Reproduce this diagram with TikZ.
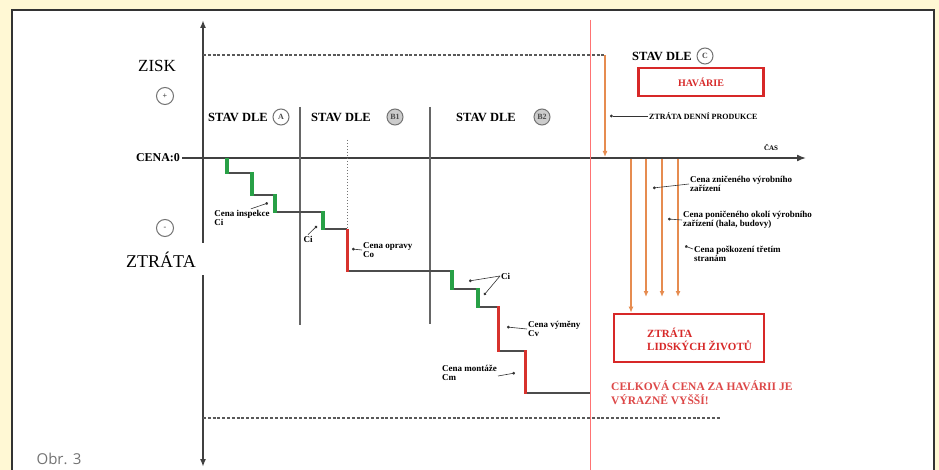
\documentclass[tikz,border=0pt]{standalone}
\usepackage{fontspec}
\setmainfont{Liberation Serif}
\newfontfamily\obrfont{Open Sans}
\usepackage{tikz}
\usetikzlibrary{arrows.meta,positioning,shapes.geometric}
\definecolor{pagebg}{RGB}{255,248,212}
\definecolor{stepgreen}{RGB}{40,160,70}
\definecolor{stepred}{RGB}{215,50,45}
\definecolor{lossorange}{RGB}{230,140,80}
\definecolor{boxred}{RGB}{215,40,40}

\begin{document}
\begin{tikzpicture}[x=1pt,y=-1pt,
    axis/.style={line width=1.6pt,black!75},
    dashline/.style={line width=1.4pt,black!65,dash pattern=on 3pt off 1.8pt},
    sepline/.style={line width=1.3pt,black!60},
    stepline/.style={line width=1.2pt,black!70},
    greenstep/.style={line width=3.4pt,stepgreen},
    redstep/.style={line width=3pt,stepred},
    lossline/.style={line width=1.7pt,lossorange},
    pointer/.style={line width=0.6pt,black!80,-{Circle[length=2.8pt]}},
    stavlabel/.style={font=\bfseries\fontsize{12.5}{13}\selectfont,inner sep=1pt},
    circlabel/.style={circle,draw=black!55,line width=1pt,minimum size=16pt,inner sep=0pt,font=\bfseries\fontsize{8}{8}\selectfont,text=black!70},
    smalllabel/.style={font=\bfseries\fontsize{9}{9.5}\selectfont,align=left,inner sep=1pt},
    redbox/.style={draw=boxred,line width=2.6pt,text=boxred,font=\bfseries}]

    % Frame
    \useasboundingbox (0,0) rectangle (939,470);
    \fill[pagebg] (0,0) rectangle (939,470);
    \fill[white] (12,10) rectangle (934,470);
    \draw[line width=1.4pt,black!80] (12,470) -- (12,10) -- (934,10) -- (934,470);
    \node[font=\obrfont\fontsize{15}{15}\selectfont,text=black!55] (obr) at (59,459) {Obr. 3};

    % Axis labels
    \node[font=\fontsize{17}{17}\selectfont] (zisk) at (157,66) {ZISK};
    \node[circlabel,minimum size=17pt] (plus) at (165,96) {+};
    \node[font=\bfseries\fontsize{12}{12}\selectfont,inner sep=2pt] (cena) at (158,158) {CENA:0};
    \node[circlabel,minimum size=17pt] (minus) at (165,228) {-};
    \node[font=\fontsize{18}{18}\selectfont] (ztrata) at (161,260) {ZTRÁTA};

    % Axes
    \coordinate (ytop) at (203,20);
    \coordinate (ybot) at (203,467);
    \coordinate (xend) at (806,158);
    \draw[axis,-{Latex[length=8pt,width=6pt]}] (203,243) -- (ytop);
    \draw[axis,-{Latex[length=8pt,width=6pt]}] (203,275) -- (ybot);
    \draw[axis,-{Latex[length=9pt,width=7pt]}] (cena.east) -- (xend);
    \node[font=\bfseries\fontsize{7}{7}\selectfont] (cas) at (771,147) {ČAS};

    % Limits
    \draw[dashline] (203,55) -- (605,55);
    \draw[dashline] (203,418) -- (720,418);
    \draw[line width=1pt,red!55] (590,20) -- (590,470);

    % States
    \draw[sepline] (300,107) -- (300,325);
    \draw[sepline] (430,107) -- (430,324);
    \draw[black!55,line width=1pt,dotted] (347,140) -- (347,229);
    \node[stavlabel] (stavA) at (238,117) {STAV DLE};
    \node[circlabel] (cA) at (281,117) {A};
    \node[stavlabel] (stavB1) at (341,117) {STAV DLE};
    \node[circlabel,fill=black!20] (cB1) at (395,117) {B1};
    \node[stavlabel] (stavB2) at (486,117) {STAV DLE};
    \node[circlabel,fill=black!20] (cB2) at (542,117) {B2};
    \node[stavlabel] (stavC) at (662,56) {STAV DLE};
    \node[circlabel] (cC) at (705,56) {C};

    % Cost staircase
    \draw[stepline] (227,173) -- (252,173) (252,195) -- (275,195) (275,212) -- (323,212)
        (323,229) -- (347,229) (347,271) -- (452,271) (452,289) -- (478,289)
        (478,307) -- (498,307) (498,351) -- (525,351) (525,393) -- (590,393);
    \draw[greenstep] (227,158) -- (227,174) (252,172) -- (252,196) (275,194) -- (275,213)
        (323,211) -- (323,230) (452,270) -- (452,290) (478,288) -- (478,308);
    \draw[redstep] (347,229) -- (347,272) (498,306) -- (498,352) (525,350) -- (525,394);

    % Cost labels
    \node[smalllabel] (inspekce) at (242,218) {Cena inspekce\\Ci};
    \coordinate (dotI1) at (268,203);
    \draw[pointer] ([xshift=-20pt]inspekce.north east) -- (dotI1);
    \node[smalllabel] (ci2) at (308,239) {Ci};
    \coordinate (dotI2) at (317,226);
    \draw[pointer] (ci2.north) -- (dotI2);
    \node[smalllabel,anchor=west] (oprava) at (362,250) {Cena opravy\\Co};
    \coordinate (dotO) at (352,249);
    \draw[pointer] (oprava.west) -- (dotO);
    \node[smalllabel,anchor=west] (ci3) at (500,276) {Ci};
    \coordinate (dotI3) at (469,281);
    \coordinate (dotI4) at (484,295);
    \draw[pointer] (ci3.west) -- (dotI3);
    \draw[pointer] (ci3.west) -- (dotI4);
    \node[smalllabel,anchor=west] (vymena) at (527,329) {Cena výměny\\Cv};
    \coordinate (dotV) at (507,327);
    \draw[pointer] (vymena.west) -- (dotV);
    \node[smalllabel,anchor=east] (montaz) at (498,373) {Cena montáže\\Cm};
    \coordinate (dotM) at (515,373);
    \draw[pointer] ([yshift=-3pt]montaz.east) -- (dotM);

    % Accident
    \node[redbox,minimum width=125pt,minimum height=28pt,font=\bfseries\fontsize{10}{10}\selectfont] (havarie) at (701,82) {HAVÁRIE};
    \draw[lossline,-{Latex[length=6pt,width=5pt]}] (605,55) -- (605,157);
    \node[smalllabel,anchor=west,font=\bfseries\fontsize{8}{8}\selectfont] (denni) at (648,116) {ZTRÁTA DENNÍ PRODUKCE};
    \coordinate (dotD) at (610,116);
    \draw[pointer] (denni.west) -- (dotD);

    \node[redbox,minimum width=150pt,minimum height=48pt] (zivoty) at (689,338) {};
    \node[font=\bfseries\fontsize{11}{13}\selectfont,text=boxred,align=left,anchor=west,inner sep=0pt] (zivotytext) at (647,339) {ZTRÁTA\\LIDSKÝCH ŽIVOTŮ};
    \coordinate (l1) at (631,159);
    \coordinate (l2) at (646,159);
    \coordinate (l3) at (662,159);
    \coordinate (l4) at (678,159);
    \draw[lossline,-{Latex[length=6pt,width=5pt]}] (l1) -- (l1 |- zivoty.north);
    \draw[lossline,-{Latex[length=6pt,width=5pt]}] (l2) -- ++(0,138);
    \draw[lossline,-{Latex[length=6pt,width=5pt]}] (l3) -- ++(0,138);
    \draw[lossline,-{Latex[length=6pt,width=5pt]}] (l4) -- ++(0,138);

    \node[smalllabel,anchor=west] (znicene) at (689,184) {Cena zničeného výrobního\\zařízení};
    \coordinate (dotZ) at (653,188);
    \draw[pointer] (znicene.west) -- (dotZ);
    \node[smalllabel,anchor=west] (okoli) at (682,220) {Cena poničeného okolí výrobního\\zařízení (hala, budovy)};
    \coordinate (dotP) at (668,219);
    \draw[pointer] (okoli.west) -- (dotP);
    \node[smalllabel,anchor=west] (treti) at (693,254) {Cena poškození třetím\\stranám};
    \coordinate (dotT) at (685,246);
    \draw[pointer] ([yshift=5pt]treti.west) -- (dotT);

    \node[font=\bfseries\fontsize{11.5}{14}\selectfont,text=boxred!85,align=left,anchor=west,inner sep=0pt] (celkova) at (611,393) {CELKOVÁ CENA ZA HAVÁRII JE\\VÝRAZNĚ VYŠŠÍ!};
\end{tikzpicture}
\end{document}
